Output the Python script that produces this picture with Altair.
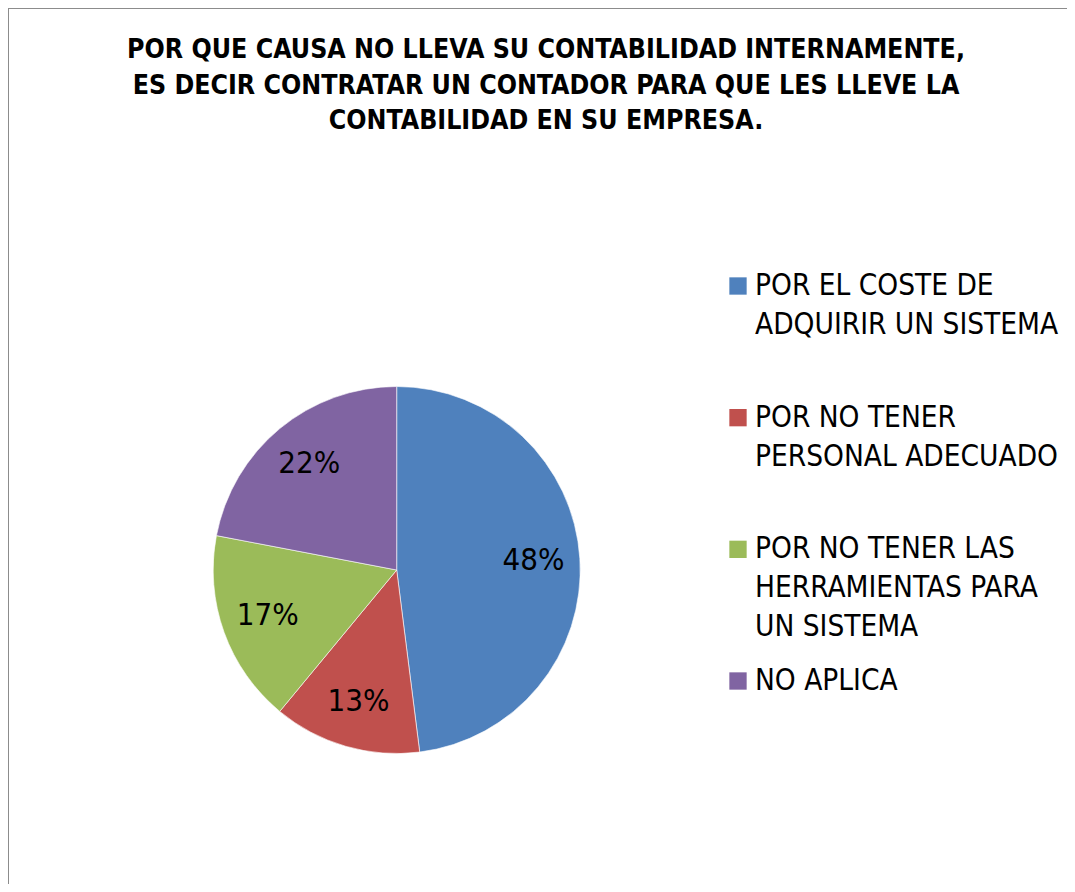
import altair as alt
import pandas as pd

categories = [
    "POR EL COSTE DE ADQUIRIR UN SISTEMA",
    "POR NO TENER PERSONAL ADECUADO",
    "POR NO TENER LAS HERRAMIENTAS PARA UN SISTEMA",
    "NO APLICA",
]
legend_text = [
    "POR EL COSTE DE\nADQUIRIR UN SISTEMA",
    "POR NO TENER\nPERSONAL ADECUADO",
    "POR NO TENER LAS\nHERRAMIENTAS PARA\nUN SISTEMA",
    "NO APLICA",
]
values = [48, 13, 17, 22]
labels = ["48%", "13%", "17%", "22%"]
colors = ["#4F81BD", "#C0504D", "#9BBB59", "#8064A2"]
title_text = ("POR QUE CAUSA NO LLEVA SU CONTABILIDAD INTERNAMENTE,\n"
              "ES DECIR CONTRATAR UN CONTADOR PARA QUE LES LLEVE LA\n"
              "CONTABILIDAD EN SU EMPRESA.")

df = pd.DataFrame({
    "cat": categories,
    "legend": legend_text,
    "value": values,
    "label": labels,
    "idx": list(range(len(categories))),
})
one = pd.DataFrame({"t": [title_text]})

W, H = 1059, 876
CX, CY, R = 388.7, 562, 183.5
FONT = "'DejaVu Sans Condensed', 'Liberation Sans', sans-serif"

color_scale = alt.Scale(domain=categories, range=colors)
y_leg = alt.Scale(type="point", domain=categories, range=[278, 673], padding=0)

base = alt.Chart(df)

pie = base.mark_arc(outerRadius=R, stroke="white", strokeWidth=0.6).encode(
    theta=alt.Theta("value:Q", stack=True),
    color=alt.Color("cat:N", scale=color_scale, legend=None),
    order=alt.Order("idx:Q"),
    x=alt.value(CX),
    y=alt.value(CY),
)

pie_labels = base.mark_text(radius=137, fontSize=31, font=FONT, color="black").encode(
    theta=alt.Theta("value:Q", stack=True),
    detail="cat:N",
    order=alt.Order("idx:Q"),
    text="label:N",
    x=alt.value(CX),
    y=alt.value(CY),
)

leg_sq = base.mark_square(size=300, opacity=1, shape="square").encode(
    x=alt.value(730),
    y=alt.Y("cat:N", scale=y_leg, axis=None),
    color=alt.Color("cat:N", scale=color_scale, legend=None),
)

leg_txt = base.mark_text(align="left", baseline="alphabetic", dy=9, fontSize=29.5,
                         font=FONT, lineBreak="\n", lineHeight=39, color="black").encode(
    x=alt.value(747),
    y=alt.Y("cat:N", scale=y_leg, axis=None),
    text="legend:N",
)

title = alt.Chart(one).mark_text(align="center", baseline="alphabetic", fontSize=26.5,
                                 fontWeight="bold", font=FONT, lineBreak="\n",
                                 lineHeight=35.3, color="black").encode(
    x=alt.value(538),
    y=alt.value(50.3),
    text="t:N",
)

left_border = alt.Chart(one).mark_rule(color="#8c8c8c", strokeWidth=2).encode(
    x=alt.value(0), y=alt.value(0), y2=alt.value(H))
top_border = alt.Chart(one).mark_rule(color="#8c8c8c", strokeWidth=2).encode(
    x=alt.value(0), x2=alt.value(W), y=alt.value(0))

chart = alt.layer(pie, pie_labels, leg_sq, leg_txt, title, left_border, top_border).properties(
    width=W, height=H,
    autosize=alt.AutoSizeParams(type="none"),
    padding=0,
    background="white",
).configure_view(stroke=None)

chart.save("out.html", embed_options={"renderer": "svg", "actions": False})
